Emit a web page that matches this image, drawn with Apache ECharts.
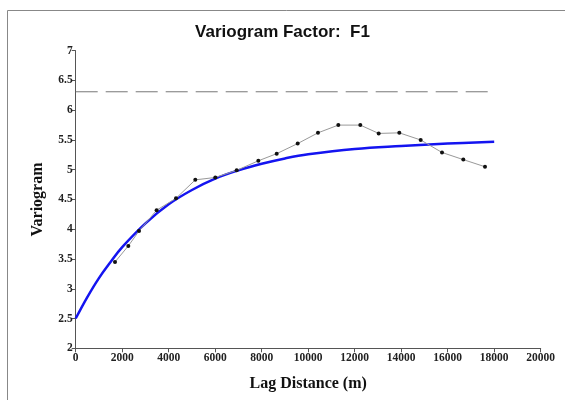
<!DOCTYPE html>
<html>
<head>
<meta charset="utf-8">
<script src="https://cdn.jsdelivr.net/npm/echarts@6/dist/echarts.min.js"></script>
<style>html,body{margin:0;padding:0;background:#fff}#c{width:565px;height:400px}</style>
</head>
<body>
<div id="c"></div>
<script>
var lagX = [1690, 2263, 2723, 3480, 4314, 5144, 6004, 6924, 7855, 8645, 9548, 10421, 11295, 12241, 13032, 13918, 14838, 15755, 16671, 17604];
var lagY = [3.45, 3.72, 3.97, 4.32, 4.52, 4.83, 4.87, 4.99, 5.15, 5.27, 5.44, 5.62, 5.75, 5.75, 5.61, 5.62, 5.50, 5.29, 5.17, 5.05];
var modelX = [0, 500, 1000, 1500, 2000, 3000, 4000, 5000, 6000, 7000, 8000, 9000, 10000, 12000, 14000, 16000, 18000];
var modelY = [2.5, 2.86, 3.18, 3.45, 3.70, 4.10, 4.42, 4.66, 4.85, 4.99, 5.10, 5.19, 5.26, 5.35, 5.40, 5.44, 5.47];
var sillX = [0, 18000];
var sillY = [6.31, 6.31];
var xTicks = [0, 2000, 4000, 6000, 8000, 10000, 12000, 14000, 16000, 18000, 20000];
var yTicks = [2, 2.5, 3, 3.5, 4, 4.5, 5, 5.5, 6, 6.5, 7];

function pairs(xs, ys) { return xs.map(function (x, i) { return [x, ys[i]]; }); }

var chart = echarts.init(document.getElementById('c'));
var axisCol = '#555';
var lblStyle = { fontFamily: 'Liberation Serif', fontWeight: 'bold', fontSize: 11.5, color: '#222' };
chart.setOption({
  animation: false,
  backgroundColor: '#fff',
  graphic: [{
    type: 'rect', shape: { x: 7.5, y: 10.5, width: 700, height: 500 },
    style: { fill: 'none', stroke: '#888', lineWidth: 1 }, silent: true
  }],
  title: {
    text: 'Variogram Factor:  F1', left: 'center', top: 19,
    textStyle: { fontFamily: 'Liberation Sans', fontWeight: 'bold', fontSize: 17, color: '#111' }
  },
  grid: { left: 75.7, right: 24.3, top: 50.7, bottom: 51.7 },
  xAxis: {
    type: 'value', min: xTicks[0], max: xTicks[xTicks.length - 1], interval: 2000,
    name: 'Lag Distance (m)', nameLocation: 'middle', nameGap: 28,
    nameTextStyle: { fontFamily: 'Liberation Serif', fontWeight: 'bold', fontSize: 16, color: '#111' },
    axisLine: { show: true, onZero: false, lineStyle: { color: axisCol, width: 1 } },
    axisTick: { show: true, length: 4, lineStyle: { color: axisCol } },
    splitLine: { show: false },
    axisLabel: Object.assign({ margin: 4, formatter: function (v) { return String(v); } }, lblStyle)
  },
  yAxis: {
    type: 'value', min: yTicks[0], max: yTicks[yTicks.length - 1], interval: 0.5,
    name: 'Variogram', nameLocation: 'middle', nameGap: 30, nameRotate: 90,
    nameTextStyle: { fontFamily: 'Liberation Serif', fontWeight: 'bold', fontSize: 16, color: '#111' },
    axisLine: { show: true, onZero: false, lineStyle: { color: axisCol, width: 1 } },
    axisTick: { show: true, length: 4, lineStyle: { color: axisCol } },
    splitLine: { show: false },
    axisLabel: Object.assign({ margin: 3, formatter: function (v) { return String(v); } }, lblStyle)
  },
  series: [
    {
      type: 'line', data: pairs(sillX, sillY), symbol: 'none',
      lineStyle: { color: '#777', width: 1, type: [22, 8] }, z: 1
    },
    {
      type: 'line', data: pairs(modelX, modelY), symbol: 'none', smooth: 0.4,
      lineStyle: { color: '#1414f0', width: 2.5 }, z: 3
    },
    {
      type: 'line', data: pairs(lagX, lagY), symbol: 'circle', symbolSize: 4,
      itemStyle: { color: '#111' },
      lineStyle: { color: '#999', width: 1 }, z: 4
    }
  ]
});
</script>
</body>
</html>
